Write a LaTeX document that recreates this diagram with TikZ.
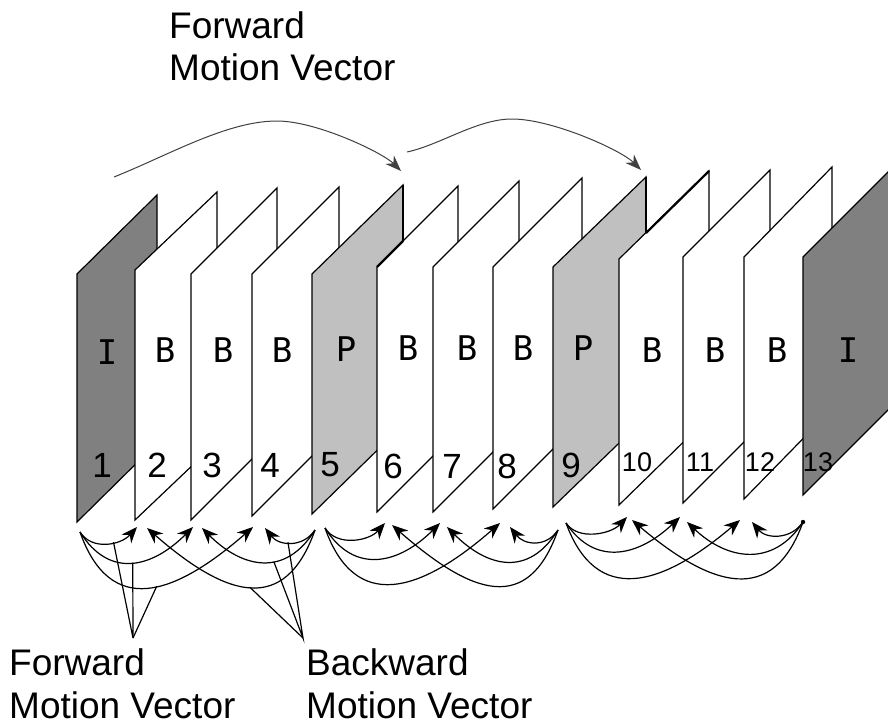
\documentclass[tikz,border=0pt]{standalone}
\usepackage{fontspec}
\setmainfont{Liberation Sans}
\newfontfamily\glyphfont{DejaVu Sans Mono}
\usetikzlibrary{arrows.meta}
\definecolor{igray}{HTML}{808080}
\definecolor{pgray}{HTML}{C0C0C0}
\tikzset{
  framebox/.style={draw=black, line width=1.2pt, line join=miter},
  typelabel/.style={inner sep=0pt, font=\glyphfont\fontsize{34}{36}\selectfont},
  numlabel/.style={inner sep=0pt, font=\fontsize{35}{38}\selectfont},
  smallnum/.style={inner sep=0pt, font=\fontsize{27}{30}\selectfont},
  caption/.style={inner sep=0pt, anchor=base west, text depth=0pt,
                  font=\fontsize{37}{40}\selectfont},
  mv/.style={draw=black, line width=1.2pt, -{Stealth[length=16pt,width=13pt]}},
  leader/.style={draw=black, line width=1.2pt},
  topmv/.style={draw=black!75, line width=1pt, -{Stealth[length=16pt,width=12pt]}},
  heavy/.style={draw=black, line width=2.2pt}
}
% picture frame: left x, top-left y, bottom-left y, right x, top-right y, fill
\newcommand\pictureframe[6]{%
  \filldraw[framebox, fill=#6] (#1,#2) -- (#4,#5) -- (#4,{#5+#3-#2}) -- (#1,#3) -- cycle;}
\begin{document}
\begin{tikzpicture}[x=1pt, y=-1pt]
\useasboundingbox (0,0) rectangle (888,725);
\clip (0,0) rectangle (888,725);
\fill[white] (0,0) rectangle (888,725);

% the thirteen pictures of the group, back to front
\pictureframe{77}{274}{522}{157}{195}{igray}
\pictureframe{135}{270}{520}{217}{192}{white}
\pictureframe{191}{274}{520}{277}{188}{white}
\pictureframe{252}{274}{516}{339}{187}{white}
\pictureframe{312}{274}{514}{403}{185}{pgray}
\pictureframe{377}{267}{512}{458}{186}{white}
\draw[heavy] (403,185) -- (403,241);
\draw[heavy] (377,267) -- (403,241);
\pictureframe{433}{267}{512}{519}{181}{white}
\pictureframe{493}{267}{509}{582}{178}{white}
\pictureframe{553}{267}{507}{646}{177}{pgray}
\pictureframe{619}{259}{505}{709}{171}{white}
\draw[heavy] (646,177) -- (646,233);
\draw[heavy] (646,233) -- (709,171);
\pictureframe{683}{257}{503}{770}{170}{white}
\pictureframe{744}{257}{499}{832}{167}{white}
\pictureframe{803}{257}{495}{891}{169}{igray}

% picture types
\node[typelabel] (ty1)  at (107,352) {I};
\node[typelabel] (ty2)  at (165,350) {B};
\node[typelabel] (ty3)  at (223,350) {B};
\node[typelabel] (ty4)  at (282,350) {B};
\node[typelabel] (ty5)  at (346,349) {P};
\node[typelabel] (ty6)  at (408,348) {B};
\node[typelabel] (ty7)  at (467,348) {B};
\node[typelabel] (ty8)  at (523,348) {B};
\node[typelabel] (ty9)  at (583,348) {P};
\node[typelabel] (ty10) at (652,350) {B};
\node[typelabel] (ty11) at (715,350) {B};
\node[typelabel] (ty12) at (777,350) {B};
\node[typelabel] (ty13) at (848,350) {I};

% picture numbers
\node[numlabel] (n1) at (102,465) {1};
\node[numlabel] (n2) at (157,465) {2};
\node[numlabel] (n3) at (212,465) {3};
\node[numlabel] (n4) at (270,465) {4};
\node[numlabel] (n5) at (330,465) {5};
\node[numlabel] (n6) at (393,466) {6};
\node[numlabel] (n7) at (452,466) {7};
\node[numlabel] (n8) at (507,466) {8};
\node[numlabel] (n9) at (571,465) {9};
\node[smallnum] (n10) at (637,462) {10};
\node[smallnum] (n11) at (700,462) {11};
\node[smallnum] (n12) at (760,462) {12};
\node[smallnum] (n13) at (818,462) {13};

% forward prediction of the P pictures
\coordinate (ta1) at (114,177);
\coordinate (tp1) at (277,121);
\coordinate (te1) at (401,171);
\coordinate (ta2) at (407,152);
\coordinate (tp2) at (512,119);
\coordinate (te2) at (641,170);
\draw[topmv] (ta1) .. controls +(55,-22) and +(-50,0) .. (tp1)
                   .. controls +(40,0) and +(-18,-18) .. (te1);
\draw[topmv] (ta2) .. controls +(33,-7) and +(-35,0) .. (tp2)
                   .. controls +(40,0) and +(-20,-20) .. (te2);

% anchors and B-picture tips below the group
\coordinate (g1L) at (80,532);
\coordinate (g1R) at (315,530);
\coordinate (g2L) at (325,528);
\coordinate (g2R) at (558,530);
\coordinate (g3L) at (566,523);
\coordinate (g3R) at (803,522);
\fill (g3R) circle (2.2pt);

\coordinate (f2) at (137,527);  \coordinate (b2) at (147,528);
\coordinate (f3) at (193,527);  \coordinate (b3) at (202,528);
\coordinate (f4) at (253,527);  \coordinate (b4) at (265,528);
\coordinate (f6) at (385,523);  \coordinate (b6) at (392,525);
\coordinate (f7) at (440,523);  \coordinate (b7) at (447,527);
\coordinate (f8) at (500,523);  \coordinate (b8) at (510,527);
\coordinate (f10) at (627,517); \coordinate (b10) at (632,520);
\coordinate (f11) at (680,517); \coordinate (b11) at (687,522);
\coordinate (f12) at (740,520); \coordinate (b12) at (752,522);

% first sub-group: I1 / P5 to B2, B3, B4
\draw[mv] (g1L) .. controls +(12,19) and +(-16,18) .. (f2) coordinate[pos=0.6] (lf1);
\draw[mv] (g1L) .. controls +(30,48) and +(-40,40) .. (f3) coordinate[pos=0.5] (lf2);
\draw[mv] (g1L) .. controls +(30,85) and +(-80,70) .. (f4) coordinate[pos=0.55] (lf3);
\draw[mv] (g1R) .. controls +(-12,18) and +(14,18) .. (b4) coordinate[pos=0.55] (lb1);
\draw[mv] (g1R) .. controls +(-30,48) and +(40,40) .. (b3) coordinate[pos=0.4] (lb2);
\draw[mv] (g1R) .. controls +(-30,85) and +(80,70) .. (b2) coordinate[pos=0.5] (lb3);

% second sub-group: P5 / P9 to B6, B7, B8
\draw[mv] (g2L) .. controls +(12,19) and +(-16,18) .. (f6);
\draw[mv] (g2L) .. controls +(30,48) and +(-40,40) .. (f7);
\draw[mv] (g2L) .. controls +(30,85) and +(-80,70) .. (f8);
\draw[mv] (g2R) .. controls +(-12,18) and +(14,18) .. (b8);
\draw[mv] (g2R) .. controls +(-30,48) and +(40,40) .. (b7);
\draw[mv] (g2R) .. controls +(-30,85) and +(80,70) .. (b6);

% third sub-group: P9 / I13 to B10, B11, B12
\draw[mv] (g3L) .. controls +(12,18) and +(-16,17) .. (f10);
\draw[mv] (g3L) .. controls +(30,45) and +(-40,38) .. (f11);
\draw[mv] (g3L) .. controls +(30,82) and +(-80,68) .. (f12);
\draw[mv] (g3R) .. controls +(-12,18) and +(14,17) .. (b12);
\draw[mv] (g3R) .. controls +(-30,46) and +(40,38) .. (b11);
\draw[mv] (g3R) .. controls +(-30,84) and +(80,68) .. (b10);

% captions and their leader lines
\node[caption] (capTopA) at (169,39) {Forward};
\node[caption] (capTopB) at (169,80) {Motion Vector};
\node[caption] (capFwdA) at (9,675) {Forward};
\node[caption] (capFwdB) at (9,718) {Motion Vector};
\node[caption] (capBwdA) at (306,675) {Backward};
\node[caption] (capBwdB) at (306,718) {Motion Vector};

\coordinate (fwdpt) at (133,638);
\coordinate (bwdpt) at (303,638);
\draw[leader] (lf1) -- (fwdpt) -- (lf2);
\draw[leader] (lf3) -- (fwdpt);
\draw[leader] (lb1) -- (bwdpt) -- (lb2);
\draw[leader] (lb3) -- (bwdpt);
\end{tikzpicture}
\end{document}
